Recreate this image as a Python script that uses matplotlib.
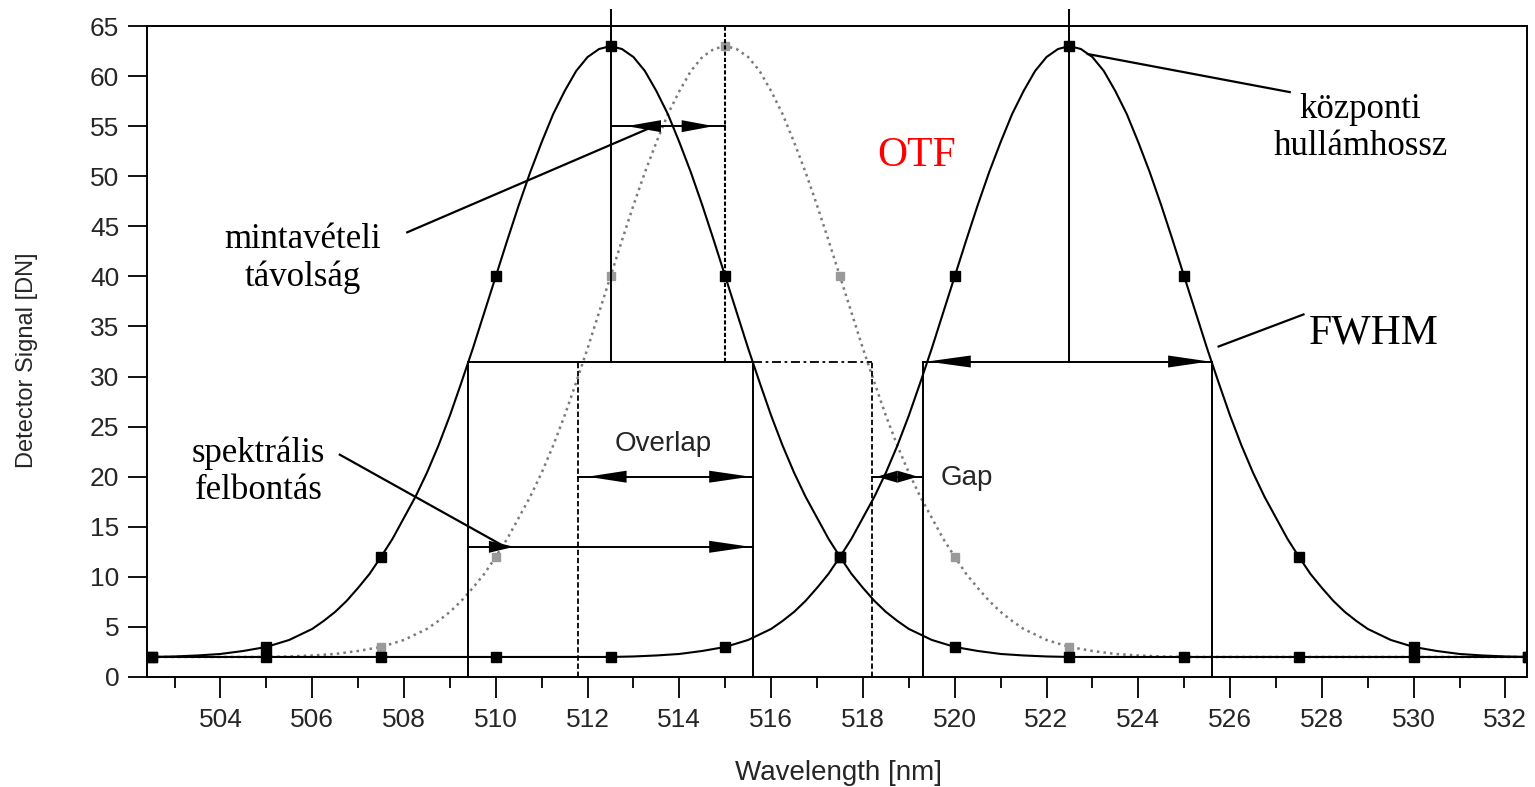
import numpy as np
import matplotlib
matplotlib.use("Agg")
import matplotlib.pyplot as plt

# profil d'une bande, en fonction de l'écart au centre (nm)
offsets = [0.0, 0.25, 0.5, 0.75, 1.0, 1.25, 1.5, 1.75, 2.0, 2.25, 2.5,
           2.75, 3.0, 3.25, 3.5, 3.75, 4.0, 4.25, 4.5, 4.75, 5.0,
           5.25, 5.5, 5.75, 6.0, 6.25, 6.5, 7.0, 7.5, 8.0, 8.5, 9.0,
           9.5, 10.0, 20.0]
profile = [63.0, 62.7, 61.9, 60.5, 58.5, 56.2, 53.4, 50.4, 47.1, 43.6, 40.0,
           36.4, 32.8, 29.4, 26.1, 23.1, 20.4, 18.0, 15.9, 13.8, 12.0,
           10.3, 8.9, 7.6, 6.5, 5.6, 4.8, 3.7, 3.0, 2.6, 2.3, 2.15,
           2.05, 2.0, 2.0]

centers = [512.5, 515.0, 522.5]

# points échantillonnés (carrés)
marker_x = [502.5, 505.0, 507.5, 510.0, 512.5, 515.0, 517.5,
            520.0, 522.5, 525.0, 527.5, 530.0, 532.5]
marker_y1 = [2, 3, 12, 40, 63, 40, 12, 3, 2, 2, 2, 2, 2]
marker_y2 = [2, 2, 3, 12, 40, 63, 40, 12, 3, 2, 2, 2, 2]
marker_y3 = [2, 2, 2, 2, 2, 3, 12, 40, 63, 40, 12, 3, 2]

# largeur à mi-hauteur
half_max = 31.5
box1 = [509.4, 515.6]
box2 = [511.8, 518.2]
box3 = [519.3, 525.6]

xticks = list(range(504, 533, 2))
xminor = list(range(503, 532, 2))
yticks = list(range(0, 66, 5))

sans = ["Liberation Sans", "DejaVu Sans"]
serif = ["Liberation Serif", "DejaVu Serif"]
txt = "#262626"


def head(ax, tip, base, y, hw=0.6):
    # pointe de flèche pleine, horizontale
    ax.fill([tip, base, base], [y, y + hw, y - hw], color="black", lw=0, zorder=6)


fig = plt.figure(figsize=(15.35, 7.87), dpi=100)
ax = fig.add_axes([147 / 1535, 1 - 677 / 787, 1380 / 1535, 651 / 787])

off = np.array(offsets)
val = np.array(profile)
full_off = np.concatenate([-off[::-1], off[1:]])
full_val = np.concatenate([val[::-1], val[1:]])

# bande centrale en pointillés gris
ax.plot(centers[1] + full_off, full_val, ls=":", color="#7a7a7a", lw=1.8, zorder=2)
ax.plot(marker_x, marker_y2, "s", color="#9a9a9a", ms=6, zorder=2)

for c in (centers[0], centers[2]):
    ax.plot(c + full_off, full_val, "-", color="black", lw=1.5, zorder=3)
ax.plot(marker_x, marker_y1, "s", color="black", ms=7.5, zorder=4)
ax.plot(marker_x, marker_y3, "s", color="black", ms=7.5, zorder=4)

# boites FWHM
lw = 1.4
for b in (box1, box3):
    ax.plot([b[0], b[0]], [0, half_max], color="black", lw=lw)
    ax.plot([b[1], b[1]], [0, half_max], color="black", lw=lw)
    ax.plot(b, [half_max, half_max], color="black", lw=lw)
for xc in (centers[0], centers[2]):
    ax.plot([xc, xc], [half_max, 66.6], color="black", lw=lw, clip_on=False)

dash = (0, (3, 1.5))
ax.plot([box2[0], box2[0]], [0, half_max], color="black", lw=1.3, ls=dash)
ax.plot([box2[1], box2[1]], [0, half_max], color="black", lw=1.3, ls=dash)
ax.plot([box1[1], box2[1]], [half_max, half_max], color="black", lw=1.3, ls=(0, (5, 2, 1.5, 2)))
ax.plot([centers[1], centers[1]], [half_max, 65], color="black", lw=1.5, ls=(0, (2, 1)))

# flèches : intervalle d'échantillonnage, recouvrement, écart, résolution
ax.plot([centers[0], centers[1]], [55, 55], color="black", lw=lw)
head(ax, 512.85, 513.6, 55)
head(ax, 514.75, 514.05, 55)

ax.plot(box2[0:1] + box1[1:2], [20, 20], color="black", lw=lw)
head(ax, 512.0, 512.85, 20)
head(ax, 515.55, 514.65, 20)

ax.plot([box2[1], box3[0]], [20, 20], color="black", lw=lw)
head(ax, 518.3, 518.75, 20)
head(ax, 519.2, 518.75, 20)

ax.plot(box1, [13, 13], color="black", lw=lw)
head(ax, 510.4, 509.85, 13)
head(ax, 515.55, 514.65, 13)

head(ax, 519.4, 520.35, half_max)
head(ax, 525.55, 524.65, half_max)

# lignes de renvoi
ax.plot([508.07, 513.45], [44.4, 55.0], color="black", lw=1.6)
ax.plot([506.6, 510.2], [22.2, 13.0], color="black", lw=1.6)
ax.plot([522.9, 527.3], [62.2, 58.4], color="black", lw=1.6)
ax.plot([525.75, 527.6], [33.0, 36.2], color="black", lw=1.6)

# textes
ax.text(505.79, 41.8, "mintavételi\ntávolság", family=serif, fontsize=25,
        ha="center", va="center", linespacing=1.15)
ax.text(504.83, 20.5, "spektrális\nfelbontás", family=serif, fontsize=25,
        ha="center", va="center", linespacing=1.15)
ax.text(528.84, 54.8, "központi\nhullámhossz", family=serif, fontsize=25,
        ha="center", va="center", linespacing=1.15)
ax.text(529.14, 34.3, "FWHM", family=serif, fontsize=30, ha="center", va="center")
ax.text(519.16, 52.0, "OTF", family=serif, fontsize=30, color="red",
        ha="center", va="center")
ax.text(513.65, 23.3, "Overlap", family=sans, fontsize=20, color=txt,
        ha="center", va="center")
ax.text(519.7, 19.9, "Gap", family=sans, fontsize=20, color=txt,
        ha="left", va="center")

# axes
ax.set_xlim(502.4, 532.47)
ax.set_ylim(0, 65)
ax.set_xticks(xticks)
ax.set_xticks(xminor, minor=True)
ax.set_yticks(yticks)
for lab in ax.get_xticklabels() + ax.get_yticklabels():
    lab.set_family(sans)
ax.tick_params(axis="x", which="major", direction="out", length=15, width=1.3,
               labelsize=19, pad=7, labelcolor=txt)
ax.tick_params(axis="x", which="minor", direction="out", length=8, width=1.3)
ax.tick_params(axis="y", direction="out", length=14, width=1.3,
               labelsize=19, pad=6, labelcolor=txt)
for s in ax.spines.values():
    s.set_linewidth(1.4)

ax.set_xlabel("Wavelength [nm]", family=sans, fontsize=20, color=txt)
ax.xaxis.set_label_coords(0.501, -0.128)
ax.set_ylabel("Detector Signal [DN]", family=sans, fontsize=17, color=txt)
ax.yaxis.set_label_coords(-0.079, 0.487)

fig.savefig("out.png", dpi=100)
